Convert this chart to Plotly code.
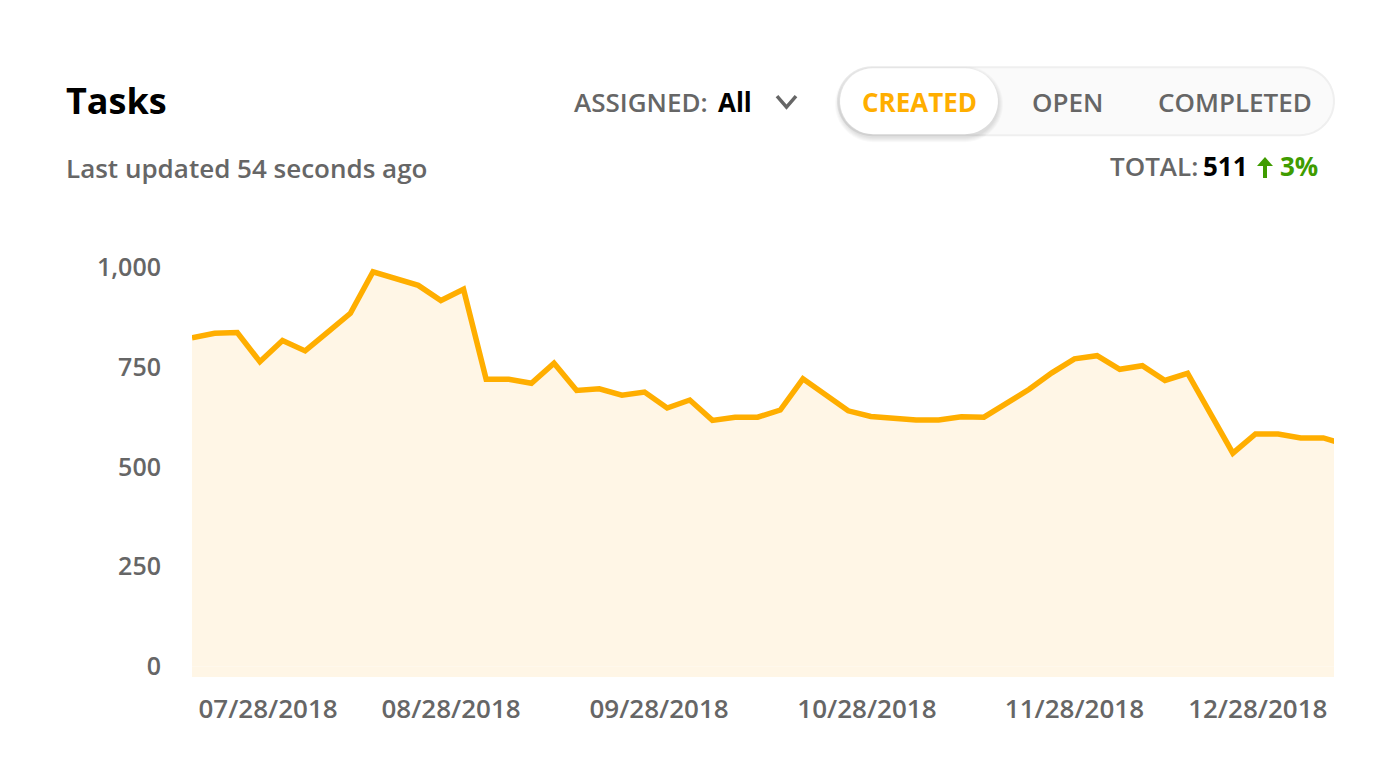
import numpy as np
import plotly.graph_objects as go

tasks_created = [823, 834, 836, 763, 816, 790, 837, 884, 988, 972, 954, 916, 944,
                 719, 719, 709, 759, 691, 695, 679, 687, 647, 667, 616, 624, 624,
                 642, 720, 682, 640, 626, 621, 617, 617, 625, 624, 660, 694, 735,
                 770, 778, 744, 753, 716, 734, 635, 534, 582, 582, 572, 572, 555]
date_positions = [3.36, 11.45, 20.64, 29.83, 39.0, 47.1]
date_labels = ["07/28/2018", "08/28/2018", "09/28/2018",
               "10/28/2018", "11/28/2018", "12/28/2018"]
y_ticks = [0, 250, 500, 750, 1000]

GREY = "#666666"
ORANGE = "#FFAE00"
GREEN = "#3F9C00"
FILL = "#FFF6E6"
FONT = "Open Sans"

# plot box in page pixels
LEFT, RIGHT, TOP, BOTTOM = 192, 1334, 250, 677.5


def px(x):
    return (x - LEFT) / (RIGHT - LEFT)


def py(y):
    return (BOTTOM - y) / (BOTTOM - TOP)


def pill_path(x0, y0, x1, y1):
    # rounded pill in paper coords, plotly arcs don't work with paper refs
    r = (y1 - y0) / 2
    pts = []
    for a in np.linspace(90, 270, 24):
        pts.append((x0 + r + r * np.cos(np.radians(a)), y0 + r - r * np.sin(np.radians(a))))
    for a in np.linspace(-90, 90, 24):
        pts.append((x1 - r + r * np.cos(np.radians(a)), y0 + r - r * np.sin(np.radians(a))))
    return "M" + " L".join(f"{px(a):.5f},{py(b):.5f}" for a, b in pts) + " Z"


def label(text, x, y, anchor="left", size=26, color=GREY, weight=600):
    # annotations carry a couple of px of padding, so pull them back a bit
    shift = {"left": -2, "center": 0}[anchor]
    return dict(text=text, xref="paper", yref="paper", x=px(x + shift), y=py(y - 1),
                xanchor=anchor, yanchor="middle", showarrow=False,
                font=dict(family=FONT, size=size, color=color, weight=weight))


fig = go.Figure()
fig.add_trace(go.Scatter(x=list(range(len(tasks_created))), y=tasks_created,
                         mode="lines", fill="tozeroy", fillcolor=FILL,
                         line=dict(color=ORANGE, width=5.5), hoverinfo="skip"))

shapes = []
# the fill runs a little below zero in the original
shapes.append(dict(type="rect", xref="paper", yref="paper", x0=0, x1=1,
                   y0=0, y1=py(667), fillcolor=FILL, line_width=0, layer="below"))

# toggle background
shapes.append(dict(type="path", xref="paper", yref="paper",
                   path=pill_path(838, 67, 1334, 135), fillcolor="#FAFAFA",
                   line=dict(color="#EFEFEF", width=2)))
# soft shadow of the active button
for grow in [5, 4, 3, 2, 1]:
    shapes.append(dict(type="path", xref="paper", yref="paper",
                       path=pill_path(840 - grow, 68 + 3 - grow, 998 + grow, 134 + 3 + grow),
                       fillcolor="rgba(0,0,0,0.025)", line_width=0))
shapes.append(dict(type="path", xref="paper", yref="paper",
                   path=pill_path(840, 68, 998, 134), fillcolor="white", line_width=0))

# chevron
shapes.append(dict(type="path", xref="paper", yref="paper",
                   path=f"M{px(777)},{py(96)} L{px(786.5)},{py(107)} L{px(796)},{py(96)}",
                   line=dict(color=GREY, width=3.5)))
# up arrow next to the percentage
shapes.append(dict(type="path", xref="paper", yref="paper",
                   path=f"M{px(1265)},{py(157)} L{px(1273)},{py(166)} L{px(1267)},{py(166)} "
                        f"L{px(1267)},{py(178)} L{px(1263)},{py(178)} L{px(1263)},{py(166)} "
                        f"L{px(1257)},{py(166)} Z",
                   fillcolor=GREEN, line_width=0))

annotations = [
    label("Tasks", 66, 101, size=36, color="#000000", weight=700),
    label("Last updated 54 seconds ago", 66, 169),
    label("ASSIGNED:", 574, 103),
    label("All", 718, 103, color="#000000", weight=700),
    label("CREATED", 919, 103, anchor="center", color=ORANGE, weight=700),
    label("OPEN", 1067.5, 103, anchor="center"),
    label("COMPLETED", 1234.5, 103, anchor="center"),
    label("TOTAL:", 1110, 167),
    label("511", 1203, 167, color="#000000", weight=700),
    label("3%", 1280, 167, color=GREEN, weight=700),
]

fig.update_layout(
    width=1400, height=784, autosize=False,
    margin=dict(l=LEFT, r=1400 - RIGHT, t=TOP, b=784 - BOTTOM, pad=0),
    paper_bgcolor="white", plot_bgcolor="white", showlegend=False,
    font=dict(family=FONT, size=26, color=GREY),
    shapes=shapes, annotations=annotations,
    xaxis=dict(range=[0, 50.47], tickmode="array", tickvals=date_positions,
               ticktext=date_labels, showgrid=False, zeroline=False, showline=False,
               ticks="", ticklabelstandoff=14,
               tickfont=dict(family=FONT, size=26, color=GREY, weight=600)),
    yaxis=dict(range=[-26.25, 1042.5], tickmode="array", tickvals=y_ticks,
               tickformat=",d", showgrid=False, zeroline=False, showline=False,
               ticks="", ticklabelstandoff=30,
               tickfont=dict(family=FONT, size=25, color=GREY, weight=600)),
)

fig.write_html("out.html", config={"displayModeBar": False},
               post_script="document.body.style.margin='0'")
